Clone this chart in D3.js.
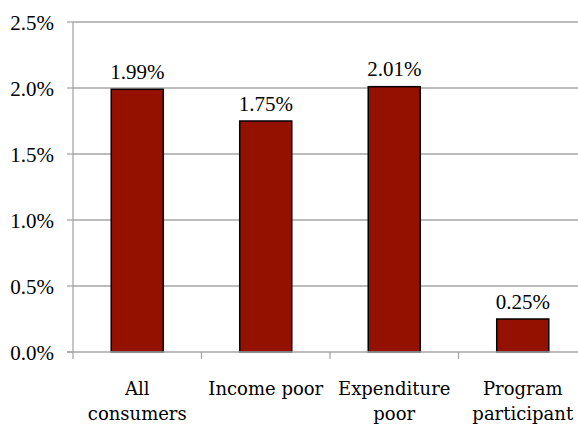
<!DOCTYPE html>
<html><head><meta charset="utf-8">
<script src="https://cdn.jsdelivr.net/npm/d3@7"></script>
<style>body{margin:0;background:#fff}svg{display:block}</style>
</head><body>
<svg id="c" width="578" height="424"></svg>
<script>
const categories = [["All","consumers"],["Income poor"],["Expenditure","poor"],["Program","participant"]];
const values = [1.99, 1.75, 2.01, 0.25];
const valueLabels = ["1.99%","1.75%","2.01%","0.25%"];
const yTicks = [0, 0.5, 1.0, 1.5, 2.0, 2.5];
const yTickLabels = ["0.0%","0.5%","1.0%","1.5%","2.0%","2.5%"];

(function(){
const svg = d3.select("#c");
const mLeft = 73, mRight = 587, mTop = 22, mBottom = 352;
const x = d3.scaleBand().domain(d3.range(categories.length)).range([mLeft, mRight]).paddingInner(0.595).paddingOuter(0.2975);
const y = d3.scaleLinear().domain([0, 2.5]).range([mBottom, mTop]);
const gray = "#a6a6a6";

// gridlines
svg.append("g").selectAll("line").data(yTicks.filter(d=>d>0)).join("line")
  .attr("x1", mLeft).attr("x2", 578).attr("y1", d=>y(d)).attr("y2", d=>y(d))
  .attr("stroke", gray).attr("stroke-width", 1.3);
// y ticks
svg.append("g").selectAll("line").data(yTicks).join("line")
  .attr("x1", mLeft-6).attr("x2", mLeft).attr("y1", d=>y(d)).attr("y2", d=>y(d))
  .attr("stroke", gray).attr("stroke-width", 1.3);
svg.append("g").selectAll("text").data(yTicks).join("text")
  .attr("x", 54).attr("y", d=>y(d)+7.5).attr("text-anchor","end")
  .attr("font-family","'Liberation Serif', 'Times New Roman', serif").attr("font-size",21).attr("fill","#000")
  .text((d,i)=>yTickLabels[i]);
// y axis line
svg.append("line").attr("x1",mLeft).attr("x2",mLeft).attr("y1",mTop).attr("y2",mBottom+7)
  .attr("stroke",gray).attr("stroke-width",1.3);

// bars
const step = x.step();
svg.append("g").selectAll("rect").data(values).join("rect")
  .attr("x",(d,i)=>x(i)).attr("width",x.bandwidth())
  .attr("y",d=>y(d)).attr("height",d=>mBottom-y(d))
  .attr("fill","#941100").attr("stroke","#000").attr("stroke-width",1.5);

// x axis
svg.append("line").attr("x1",mLeft-6).attr("x2",578).attr("y1",mBottom).attr("y2",mBottom)
  .attr("stroke",gray).attr("stroke-width",1.5);
svg.append("g").selectAll("line").data(d3.range(1,categories.length)).join("line")
  .attr("x1",i=>x(i)-step*0.2975).attr("x2",i=>x(i)-step*0.2975)
  .attr("y1",mBottom).attr("y2",mBottom+7).attr("stroke",gray).attr("stroke-width",1.3);

// value labels
svg.append("g").selectAll("text").data(values).join("text")
  .attr("x",(d,i)=>x(i)+x.bandwidth()/2).attr("y",d=>y(d)-10.5).attr("text-anchor","middle")
  .attr("font-family","'Liberation Serif', 'Times New Roman', serif").attr("font-size",21).attr("fill","#000")
  .text((d,i)=>valueLabels[i]);

// category labels
const cl = svg.append("g").selectAll("text").data(categories).join("text")
  .attr("x",(d,i)=>x(i)+x.bandwidth()/2).attr("y",395).attr("text-anchor","middle")
  .attr("font-family","'DejaVu Serif', serif").attr("font-size",18).attr("fill","#000");
cl.selectAll("tspan").data(d=>d).join("tspan")
  .attr("x",function(){return this.parentNode.getAttribute("x");})
  .attr("dy",(d,i)=>i===0?0:25).text(d=>d);
})();
</script>
</body></html>
